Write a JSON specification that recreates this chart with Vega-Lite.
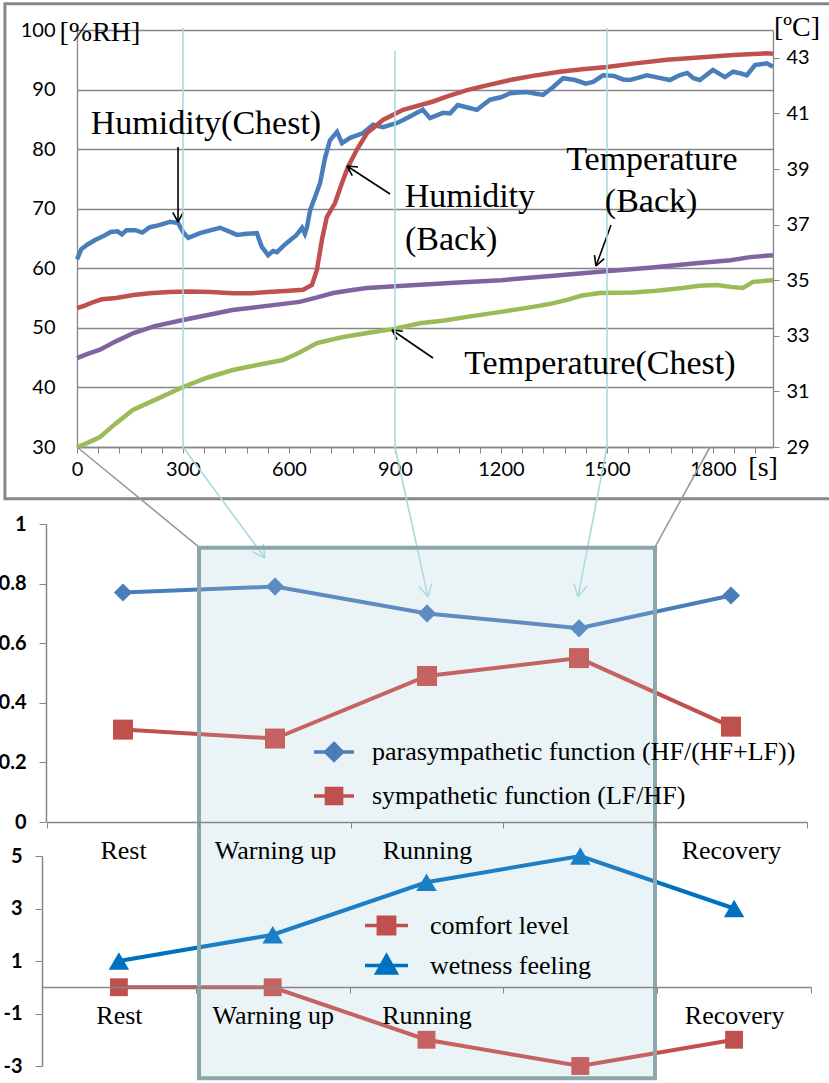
{
  "$schema": "https://vega.github.io/schema/vega-lite/v6.json",
  "width": 829,
  "height": 1083,
  "autosize": "none",
  "padding": 0,
  "background": "white",
  "config": {"view": {"stroke": null}, "font": "Liberation Serif"},
  "datasets": {
    "frame": [{"t0": -204, "t1": 2140, "h0": 21.3, "h1": 104.4}],
    "top": [
      {"sensor": "Humidity(Chest)", "time_s": 0, "value": 61.5},
      {"sensor": "Humidity(Chest)", "time_s": 12, "value": 63.2},
      {"sensor": "Humidity(Chest)", "time_s": 30, "value": 64.0},
      {"sensor": "Humidity(Chest)", "time_s": 50, "value": 64.7},
      {"sensor": "Humidity(Chest)", "time_s": 75, "value": 65.4},
      {"sensor": "Humidity(Chest)", "time_s": 95, "value": 66.1},
      {"sensor": "Humidity(Chest)", "time_s": 115, "value": 66.2},
      {"sensor": "Humidity(Chest)", "time_s": 127, "value": 65.7},
      {"sensor": "Humidity(Chest)", "time_s": 140, "value": 66.4},
      {"sensor": "Humidity(Chest)", "time_s": 165, "value": 66.4},
      {"sensor": "Humidity(Chest)", "time_s": 185, "value": 66.0},
      {"sensor": "Humidity(Chest)", "time_s": 206, "value": 66.9},
      {"sensor": "Humidity(Chest)", "time_s": 230, "value": 67.2},
      {"sensor": "Humidity(Chest)", "time_s": 263, "value": 67.8},
      {"sensor": "Humidity(Chest)", "time_s": 286, "value": 67.6},
      {"sensor": "Humidity(Chest)", "time_s": 300, "value": 66.1},
      {"sensor": "Humidity(Chest)", "time_s": 315, "value": 65.1},
      {"sensor": "Humidity(Chest)", "time_s": 348, "value": 65.9},
      {"sensor": "Humidity(Chest)", "time_s": 380, "value": 66.4},
      {"sensor": "Humidity(Chest)", "time_s": 405, "value": 66.8},
      {"sensor": "Humidity(Chest)", "time_s": 430, "value": 66.2},
      {"sensor": "Humidity(Chest)", "time_s": 453, "value": 65.6},
      {"sensor": "Humidity(Chest)", "time_s": 480, "value": 65.8},
      {"sensor": "Humidity(Chest)", "time_s": 509, "value": 65.9},
      {"sensor": "Humidity(Chest)", "time_s": 523, "value": 63.6},
      {"sensor": "Humidity(Chest)", "time_s": 541, "value": 62.2},
      {"sensor": "Humidity(Chest)", "time_s": 555, "value": 62.9},
      {"sensor": "Humidity(Chest)", "time_s": 566, "value": 62.7},
      {"sensor": "Humidity(Chest)", "time_s": 585, "value": 63.8},
      {"sensor": "Humidity(Chest)", "time_s": 603, "value": 64.7},
      {"sensor": "Humidity(Chest)", "time_s": 620, "value": 65.5},
      {"sensor": "Humidity(Chest)", "time_s": 637, "value": 66.8},
      {"sensor": "Humidity(Chest)", "time_s": 645, "value": 65.8},
      {"sensor": "Humidity(Chest)", "time_s": 651, "value": 66.9},
      {"sensor": "Humidity(Chest)", "time_s": 660, "value": 69.8},
      {"sensor": "Humidity(Chest)", "time_s": 674, "value": 72.0},
      {"sensor": "Humidity(Chest)", "time_s": 688, "value": 74.3},
      {"sensor": "Humidity(Chest)", "time_s": 702, "value": 78.5},
      {"sensor": "Humidity(Chest)", "time_s": 716, "value": 81.5},
      {"sensor": "Humidity(Chest)", "time_s": 736, "value": 82.9},
      {"sensor": "Humidity(Chest)", "time_s": 750, "value": 81.0},
      {"sensor": "Humidity(Chest)", "time_s": 773, "value": 81.9},
      {"sensor": "Humidity(Chest)", "time_s": 810, "value": 82.7},
      {"sensor": "Humidity(Chest)", "time_s": 838, "value": 84.1},
      {"sensor": "Humidity(Chest)", "time_s": 866, "value": 83.7},
      {"sensor": "Humidity(Chest)", "time_s": 906, "value": 84.4},
      {"sensor": "Humidity(Chest)", "time_s": 940, "value": 85.4},
      {"sensor": "Humidity(Chest)", "time_s": 962, "value": 86.1},
      {"sensor": "Humidity(Chest)", "time_s": 979, "value": 86.6},
      {"sensor": "Humidity(Chest)", "time_s": 999, "value": 85.2},
      {"sensor": "Humidity(Chest)", "time_s": 1036, "value": 86.1},
      {"sensor": "Humidity(Chest)", "time_s": 1056, "value": 86.0},
      {"sensor": "Humidity(Chest)", "time_s": 1078, "value": 87.4},
      {"sensor": "Humidity(Chest)", "time_s": 1105, "value": 87.0},
      {"sensor": "Humidity(Chest)", "time_s": 1132, "value": 86.6},
      {"sensor": "Humidity(Chest)", "time_s": 1169, "value": 88.3},
      {"sensor": "Humidity(Chest)", "time_s": 1200, "value": 88.7},
      {"sensor": "Humidity(Chest)", "time_s": 1226, "value": 89.4},
      {"sensor": "Humidity(Chest)", "time_s": 1250, "value": 89.5},
      {"sensor": "Humidity(Chest)", "time_s": 1274, "value": 89.6},
      {"sensor": "Humidity(Chest)", "time_s": 1300, "value": 89.3},
      {"sensor": "Humidity(Chest)", "time_s": 1319, "value": 89.1},
      {"sensor": "Humidity(Chest)", "time_s": 1347, "value": 90.4},
      {"sensor": "Humidity(Chest)", "time_s": 1376, "value": 91.9},
      {"sensor": "Humidity(Chest)", "time_s": 1410, "value": 91.6},
      {"sensor": "Humidity(Chest)", "time_s": 1440, "value": 91.0},
      {"sensor": "Humidity(Chest)", "time_s": 1461, "value": 91.3},
      {"sensor": "Humidity(Chest)", "time_s": 1489, "value": 92.4},
      {"sensor": "Humidity(Chest)", "time_s": 1520, "value": 92.3},
      {"sensor": "Humidity(Chest)", "time_s": 1545, "value": 91.7},
      {"sensor": "Humidity(Chest)", "time_s": 1565, "value": 91.6},
      {"sensor": "Humidity(Chest)", "time_s": 1590, "value": 92.0},
      {"sensor": "Humidity(Chest)", "time_s": 1613, "value": 92.4},
      {"sensor": "Humidity(Chest)", "time_s": 1645, "value": 92.0},
      {"sensor": "Humidity(Chest)", "time_s": 1678, "value": 91.6},
      {"sensor": "Humidity(Chest)", "time_s": 1705, "value": 92.4},
      {"sensor": "Humidity(Chest)", "time_s": 1727, "value": 92.8},
      {"sensor": "Humidity(Chest)", "time_s": 1745, "value": 91.9},
      {"sensor": "Humidity(Chest)", "time_s": 1763, "value": 91.6},
      {"sensor": "Humidity(Chest)", "time_s": 1800, "value": 93.3},
      {"sensor": "Humidity(Chest)", "time_s": 1834, "value": 92.1},
      {"sensor": "Humidity(Chest)", "time_s": 1857, "value": 93.0},
      {"sensor": "Humidity(Chest)", "time_s": 1880, "value": 92.7},
      {"sensor": "Humidity(Chest)", "time_s": 1896, "value": 92.4},
      {"sensor": "Humidity(Chest)", "time_s": 1919, "value": 94.1},
      {"sensor": "Humidity(Chest)", "time_s": 1953, "value": 94.4},
      {"sensor": "Humidity(Chest)", "time_s": 1970, "value": 93.8},
      {"sensor": "Humidity(Back)", "time_s": 0, "value": 53.3},
      {"sensor": "Humidity(Back)", "time_s": 20, "value": 53.7},
      {"sensor": "Humidity(Back)", "time_s": 45, "value": 54.3},
      {"sensor": "Humidity(Back)", "time_s": 70, "value": 54.8},
      {"sensor": "Humidity(Back)", "time_s": 110, "value": 55.0},
      {"sensor": "Humidity(Back)", "time_s": 160, "value": 55.5},
      {"sensor": "Humidity(Back)", "time_s": 206, "value": 55.8},
      {"sensor": "Humidity(Back)", "time_s": 260, "value": 56.0},
      {"sensor": "Humidity(Back)", "time_s": 320, "value": 56.1},
      {"sensor": "Humidity(Back)", "time_s": 380, "value": 56.0},
      {"sensor": "Humidity(Back)", "time_s": 440, "value": 55.8},
      {"sensor": "Humidity(Back)", "time_s": 490, "value": 55.8},
      {"sensor": "Humidity(Back)", "time_s": 540, "value": 56.0},
      {"sensor": "Humidity(Back)", "time_s": 590, "value": 56.2},
      {"sensor": "Humidity(Back)", "time_s": 640, "value": 56.4},
      {"sensor": "Humidity(Back)", "time_s": 665, "value": 57.2},
      {"sensor": "Humidity(Back)", "time_s": 679, "value": 59.7},
      {"sensor": "Humidity(Back)", "time_s": 693, "value": 64.7},
      {"sensor": "Humidity(Back)", "time_s": 707, "value": 68.6},
      {"sensor": "Humidity(Back)", "time_s": 730, "value": 70.9},
      {"sensor": "Humidity(Back)", "time_s": 750, "value": 74.3},
      {"sensor": "Humidity(Back)", "time_s": 767, "value": 77.0},
      {"sensor": "Humidity(Back)", "time_s": 792, "value": 79.9},
      {"sensor": "Humidity(Back)", "time_s": 821, "value": 82.7},
      {"sensor": "Humidity(Back)", "time_s": 866, "value": 84.9},
      {"sensor": "Humidity(Back)", "time_s": 923, "value": 86.6},
      {"sensor": "Humidity(Back)", "time_s": 1008, "value": 88.0},
      {"sensor": "Humidity(Back)", "time_s": 1050, "value": 88.9},
      {"sensor": "Humidity(Back)", "time_s": 1104, "value": 89.9},
      {"sensor": "Humidity(Back)", "time_s": 1160, "value": 90.7},
      {"sensor": "Humidity(Back)", "time_s": 1226, "value": 91.6},
      {"sensor": "Humidity(Back)", "time_s": 1290, "value": 92.3},
      {"sensor": "Humidity(Back)", "time_s": 1367, "value": 93.0},
      {"sensor": "Humidity(Back)", "time_s": 1430, "value": 93.4},
      {"sensor": "Humidity(Back)", "time_s": 1500, "value": 93.8},
      {"sensor": "Humidity(Back)", "time_s": 1580, "value": 94.4},
      {"sensor": "Humidity(Back)", "time_s": 1670, "value": 95.0},
      {"sensor": "Humidity(Back)", "time_s": 1760, "value": 95.4},
      {"sensor": "Humidity(Back)", "time_s": 1857, "value": 95.8},
      {"sensor": "Humidity(Back)", "time_s": 1953, "value": 96.1},
      {"sensor": "Humidity(Back)", "time_s": 1970, "value": 96.0},
      {"sensor": "Temperature(Back)", "time_s": 0, "value": 32.2},
      {"sensor": "Temperature(Back)", "time_s": 30, "value": 32.35},
      {"sensor": "Temperature(Back)", "time_s": 65, "value": 32.5},
      {"sensor": "Temperature(Back)", "time_s": 110, "value": 32.8},
      {"sensor": "Temperature(Back)", "time_s": 160, "value": 33.1},
      {"sensor": "Temperature(Back)", "time_s": 220, "value": 33.35},
      {"sensor": "Temperature(Back)", "time_s": 300, "value": 33.57},
      {"sensor": "Temperature(Back)", "time_s": 370, "value": 33.75},
      {"sensor": "Temperature(Back)", "time_s": 440, "value": 33.93},
      {"sensor": "Temperature(Back)", "time_s": 520, "value": 34.05},
      {"sensor": "Temperature(Back)", "time_s": 630, "value": 34.22},
      {"sensor": "Temperature(Back)", "time_s": 680, "value": 34.38},
      {"sensor": "Temperature(Back)", "time_s": 725, "value": 34.54},
      {"sensor": "Temperature(Back)", "time_s": 780, "value": 34.65},
      {"sensor": "Temperature(Back)", "time_s": 820, "value": 34.72},
      {"sensor": "Temperature(Back)", "time_s": 900, "value": 34.78},
      {"sensor": "Temperature(Back)", "time_s": 960, "value": 34.83},
      {"sensor": "Temperature(Back)", "time_s": 1080, "value": 34.92},
      {"sensor": "Temperature(Back)", "time_s": 1200, "value": 35.0},
      {"sensor": "Temperature(Back)", "time_s": 1340, "value": 35.15},
      {"sensor": "Temperature(Back)", "time_s": 1480, "value": 35.3},
      {"sensor": "Temperature(Back)", "time_s": 1620, "value": 35.45},
      {"sensor": "Temperature(Back)", "time_s": 1760, "value": 35.62},
      {"sensor": "Temperature(Back)", "time_s": 1850, "value": 35.72},
      {"sensor": "Temperature(Back)", "time_s": 1905, "value": 35.83},
      {"sensor": "Temperature(Back)", "time_s": 1970, "value": 35.9},
      {"sensor": "Temperature(Chest)", "time_s": 0, "value": 29.0},
      {"sensor": "Temperature(Chest)", "time_s": 30, "value": 29.15},
      {"sensor": "Temperature(Chest)", "time_s": 65, "value": 29.36},
      {"sensor": "Temperature(Chest)", "time_s": 110, "value": 29.85},
      {"sensor": "Temperature(Chest)", "time_s": 158, "value": 30.33},
      {"sensor": "Temperature(Chest)", "time_s": 230, "value": 30.75},
      {"sensor": "Temperature(Chest)", "time_s": 300, "value": 31.16},
      {"sensor": "Temperature(Chest)", "time_s": 370, "value": 31.5},
      {"sensor": "Temperature(Chest)", "time_s": 441, "value": 31.77},
      {"sensor": "Temperature(Chest)", "time_s": 510, "value": 31.95},
      {"sensor": "Temperature(Chest)", "time_s": 583, "value": 32.13},
      {"sensor": "Temperature(Chest)", "time_s": 630, "value": 32.4},
      {"sensor": "Temperature(Chest)", "time_s": 679, "value": 32.74},
      {"sensor": "Temperature(Chest)", "time_s": 750, "value": 32.95},
      {"sensor": "Temperature(Chest)", "time_s": 821, "value": 33.1},
      {"sensor": "Temperature(Chest)", "time_s": 894, "value": 33.24},
      {"sensor": "Temperature(Chest)", "time_s": 971, "value": 33.45},
      {"sensor": "Temperature(Chest)", "time_s": 1040, "value": 33.55},
      {"sensor": "Temperature(Chest)", "time_s": 1104, "value": 33.68},
      {"sensor": "Temperature(Chest)", "time_s": 1200, "value": 33.86},
      {"sensor": "Temperature(Chest)", "time_s": 1291, "value": 34.04},
      {"sensor": "Temperature(Chest)", "time_s": 1340, "value": 34.15},
      {"sensor": "Temperature(Chest)", "time_s": 1387, "value": 34.29},
      {"sensor": "Temperature(Chest)", "time_s": 1430, "value": 34.45},
      {"sensor": "Temperature(Chest)", "time_s": 1480, "value": 34.54},
      {"sensor": "Temperature(Chest)", "time_s": 1574, "value": 34.56},
      {"sensor": "Temperature(Chest)", "time_s": 1640, "value": 34.62},
      {"sensor": "Temperature(Chest)", "time_s": 1715, "value": 34.72},
      {"sensor": "Temperature(Chest)", "time_s": 1760, "value": 34.8},
      {"sensor": "Temperature(Chest)", "time_s": 1811, "value": 34.83},
      {"sensor": "Temperature(Chest)", "time_s": 1850, "value": 34.76},
      {"sensor": "Temperature(Chest)", "time_s": 1885, "value": 34.72},
      {"sensor": "Temperature(Chest)", "time_s": 1913, "value": 34.94},
      {"sensor": "Temperature(Chest)", "time_s": 1970, "value": 35.0}
    ],
    "strokes": [
      {"kind": "callout", "t_from": 285.9, "h_from": 80.36, "t_to": 285.9, "h_to": 67.77},
      {"kind": "callout", "t_from": 285.9, "h_from": 67.77, "t_to": 300.6, "h_to": 69.4},
      {"kind": "callout", "t_from": 285.9, "h_from": 67.77, "t_to": 271.2, "h_to": 69.4},
      {"kind": "callout", "t_from": 886.0, "h_from": 72.47, "t_to": 764.2, "h_to": 77.17},
      {"kind": "callout", "t_from": 764.2, "h_from": 77.17, "t_to": 779.2, "h_to": 75.56},
      {"kind": "callout", "t_from": 764.2, "h_from": 77.17, "t_to": 795.3, "h_to": 77.0},
      {"kind": "callout", "t_from": 1511.5, "h_from": 67.27, "t_to": 1469.0, "h_to": 60.38},
      {"kind": "callout", "t_from": 1469.0, "h_from": 60.38, "t_to": 1492.2, "h_to": 61.63},
      {"kind": "callout", "t_from": 1469.0, "h_from": 60.38, "t_to": 1464.7, "h_to": 62.21},
      {"kind": "callout", "t_from": 1007.6, "h_from": 44.94, "t_to": 891.6, "h_to": 49.64},
      {"kind": "callout", "t_from": 891.6, "h_from": 49.64, "t_to": 906.0, "h_to": 48.01},
      {"kind": "callout", "t_from": 891.6, "h_from": 49.64, "t_to": 922.4, "h_to": 49.44},
      {"kind": "stage", "t_from": 300, "h_from": 100.34, "t_to": 300, "h_to": 30},
      {"kind": "stage", "t_from": 300, "h_from": 30, "t_to": 532.1, "h_to": 11.37},
      {"kind": "stage", "t_from": 532.1, "h_from": 11.37, "t_to": 527.3, "h_to": 13.7},
      {"kind": "stage", "t_from": 532.1, "h_from": 11.37, "t_to": 496.7, "h_to": 12.42},
      {"kind": "stage", "t_from": 900, "h_from": 96.5, "t_to": 900, "h_to": 30},
      {"kind": "stage", "t_from": 900, "h_from": 30, "t_to": 993.5, "h_to": 4.82},
      {"kind": "stage", "t_from": 993.5, "h_from": 4.82, "t_to": 1004.2, "h_to": 7.09},
      {"kind": "stage", "t_from": 993.5, "h_from": 4.82, "t_to": 967.7, "h_to": 6.62},
      {"kind": "stage", "t_from": 1500, "h_from": 100.34, "t_to": 1500, "h_to": 30},
      {"kind": "stage", "t_from": 1500, "h_from": 30, "t_to": 1418.1, "h_to": 4.82},
      {"kind": "stage", "t_from": 1418.1, "h_from": 4.82, "t_to": 1443.0, "h_to": 6.65},
      {"kind": "stage", "t_from": 1418.1, "h_from": 4.82, "t_to": 1406.4, "h_to": 7.07},
      {"kind": "zoom", "t_from": 0, "h_from": 30, "t_to": 345.3, "h_to": 13.21},
      {"kind": "zoom", "t_from": 1791.7, "h_from": 30, "t_to": 1636, "h_to": 13.21}
    ],
    "notes": [
      {"kind": "unit", "text": "[%RH]", "time_s": 65, "level": 99.5},
      {"kind": "unit", "text": "[ºC]", "time_s": 2038, "level": 100.34},
      {"kind": "unit", "text": "[s]", "time_s": 1942, "level": 26.47},
      {"kind": "callout", "text": "Humidity(Chest)", "time_s": 365, "level": 84.22},
      {"kind": "callout", "text": "Humidity", "time_s": 1112, "level": 71.97},
      {"kind": "callout", "text": "(Back)", "time_s": 1059, "level": 64.75},
      {"kind": "callout", "text": "Temperature", "time_s": 1627, "level": 78.18},
      {"kind": "callout", "text": "(Back)", "time_s": 1625, "level": 71.13},
      {"kind": "callout", "text": "Temperature(Chest)", "time_s": 1480, "level": 43.93}
    ],
    "hrv": [
      {"stage": "Rest", "series": "parasympathetic function (HF/(HF+LF))", "value": 0.77},
      {"stage": "Warning up", "series": "parasympathetic function (HF/(HF+LF))", "value": 0.79},
      {"stage": "Running", "series": "parasympathetic function (HF/(HF+LF))", "value": 0.70},
      {"stage": "Running 2", "series": "parasympathetic function (HF/(HF+LF))", "value": 0.65},
      {"stage": "Recovery", "series": "parasympathetic function (HF/(HF+LF))", "value": 0.76},
      {"stage": "Rest", "series": "sympathetic function (LF/HF)", "value": 0.31},
      {"stage": "Warning up", "series": "sympathetic function (LF/HF)", "value": 0.28},
      {"stage": "Running", "series": "sympathetic function (LF/HF)", "value": 0.49},
      {"stage": "Running 2", "series": "sympathetic function (LF/HF)", "value": 0.55},
      {"stage": "Recovery", "series": "sympathetic function (LF/HF)", "value": 0.32}
    ],
    "subjective": [
      {"stage": "Rest", "series": "comfort level", "score": 0},
      {"stage": "Warning up", "series": "comfort level", "score": 0},
      {"stage": "Running", "series": "comfort level", "score": -2},
      {"stage": "Running 2", "series": "comfort level", "score": -3},
      {"stage": "Recovery", "series": "comfort level", "score": -2},
      {"stage": "Rest", "series": "wetness feeling", "score": 1},
      {"stage": "Warning up", "series": "wetness feeling", "score": 2},
      {"stage": "Running", "series": "wetness feeling", "score": 4},
      {"stage": "Running 2", "series": "wetness feeling", "score": 5},
      {"stage": "Recovery", "series": "wetness feeling", "score": 3}
    ],
    "focus": [{"stage_from": 1.5, "stage_to": 4.5, "upper": 0.92, "lower": -0.86}]
  },
  "layer": [
    {
      "data": {"name": "frame"},
      "mark": {"type": "rect", "fillOpacity": 0, "stroke": "#878787", "strokeWidth": 3},
      "encoding": {
        "x": {"field": "t0", "type": "quantitative", "scale": {"domain": [0, 1970], "range": [77, 773], "nice": false, "zero": false}, "axis": null},
        "x2": {"field": "t1"},
        "y": {"field": "h0", "type": "quantitative", "scale": {"domain": [30, 100], "range": [447, 30], "nice": false, "zero": false}, "axis": null},
        "y2": {"field": "h1"}
      }
    },
    {
      "data": {"name": "focus"},
      "mark": {"type": "rect", "fill": "#d3e8ee", "fillOpacity": 0.45, "strokeWidth": 0},
      "encoding": {
        "x": {"field": "stage_from", "type": "quantitative", "scale": {"domain": [0.5, 5.5], "range": [47, 807], "nice": false, "zero": false}, "axis": null},
        "x2": {"field": "stage_to"},
        "y": {"field": "upper", "type": "quantitative", "scale": {"domain": [0, 1], "range": [822, 524], "nice": false, "zero": false}, "axis": null},
        "y2": {"field": "lower"}
      }
    },
    {
      "data": {"name": "top"},
      "transform": [{"filter": "datum.sensor === 'Humidity(Chest)' || datum.sensor === 'Humidity(Back)'"}],
      "mark": {"type": "line", "strokeWidth": 4.5},
      "encoding": {
        "x": {"field": "time_s", "type": "quantitative",
          "scale": {"domain": [0, 1970], "range": [77, 773], "nice": false, "zero": false},
          "axis": {"orient": "bottom", "offset": -636, "title": null, "grid": false,
            "values": [0,60,120,180,240,300,360,420,480,540,600,660,720,780,840,900,960,1020,1080,1140,1200,1260,1320,1380,1440,1500,1560,1620,1680,1740,1800,1860,1920],
            "labelExpr": "datum.value % 300 === 0 ? format(datum.value, 'd') : ''",
            "tickSize": 6, "tickColor": "#868686", "domainColor": "#868686", "domainWidth": 1.3,
            "labelFont": "Lato", "labelFontSize": 20, "labelColor": "black", "labelPadding": 6,
            "labelFlush": false, "labelOverlap": false}},
        "y": {"field": "value", "type": "quantitative",
          "scale": {"domain": [30, 100], "range": [447, 30], "nice": false, "zero": false},
          "axis": {"orient": "left", "offset": -77, "title": null, "grid": true, "gridColor": "#868686", "gridWidth": 1.3,
            "values": [30,40,50,60,70,80,90,100], "ticks": false, "domainColor": "#868686", "domainWidth": 1.3,
            "labelFont": "Lato", "labelFontSize": 20, "labelColor": "black", "labelPadding": 22,
            "labelFlush": false, "labelOverlap": false}},
        "color": {"field": "sensor", "type": "nominal",
          "scale": {"domain": ["Humidity(Chest)", "Humidity(Back)"], "range": ["#4a7ebb", "#c0504d"]}, "legend": null}
      }
    },
    {
      "data": {"name": "top"},
      "transform": [{"filter": "datum.sensor === 'Temperature(Back)' || datum.sensor === 'Temperature(Chest)'"}],
      "mark": {"type": "line", "strokeWidth": 4.5},
      "encoding": {
        "x": {"field": "time_s", "type": "quantitative", "scale": {"domain": [0, 1970], "range": [77, 773], "nice": false, "zero": false}, "axis": null},
        "y": {"field": "value", "type": "quantitative",
          "scale": {"domain": [29, 44], "range": [447, 30], "nice": false, "zero": false},
          "axis": {"orient": "right", "offset": -56, "title": null, "grid": false,
            "values": [29,31,33,35,37,39,41,43], "format": "d", "tickSize": 6, "tickColor": "#868686",
            "domainColor": "#868686", "domainWidth": 1.3,
            "labelFont": "Lato", "labelFontSize": 20, "labelColor": "black", "labelPadding": 7,
            "labelFlush": false, "labelOverlap": false}},
        "color": {"field": "sensor", "type": "nominal",
          "scale": {"domain": ["Temperature(Back)", "Temperature(Chest)"], "range": ["#8064a2", "#9bbb59"]}, "legend": null}
      }
    },
    {
      "data": {"name": "strokes"},
      "mark": {"type": "rule", "strokeWidth": 1.6},
      "encoding": {
        "x": {"field": "t_from", "type": "quantitative", "scale": {"domain": [0, 1970], "range": [77, 773], "nice": false, "zero": false}, "axis": null},
        "x2": {"field": "t_to"},
        "y": {"field": "h_from", "type": "quantitative", "scale": {"domain": [30, 100], "range": [447, 30], "nice": false, "zero": false}, "axis": null},
        "y2": {"field": "h_to"},
        "color": {"field": "kind", "type": "nominal", "scale": {"domain": ["callout", "stage", "zoom"], "range": ["#000000", "#a9d9dd", "#9a9a9a"]}, "legend": null}
      }
    },
    {
      "data": {"name": "notes"},
      "transform": [{"filter": "datum.kind === 'unit'"}],
      "mark": {"type": "text", "font": "Liberation Serif", "fontSize": 28, "align": "center", "baseline": "middle", "color": "black"},
      "encoding": {
        "x": {"field": "time_s", "type": "quantitative", "scale": {"domain": [0, 1970], "range": [77, 773], "nice": false, "zero": false}, "axis": null},
        "y": {"field": "level", "type": "quantitative", "scale": {"domain": [30, 100], "range": [447, 30], "nice": false, "zero": false}, "axis": null},
        "text": {"field": "text"}
      }
    },
    {
      "data": {"name": "notes"},
      "transform": [{"filter": "datum.kind === 'callout'"}],
      "mark": {"type": "text", "font": "Liberation Serif", "fontSize": 34, "align": "center", "baseline": "middle", "color": "black"},
      "encoding": {
        "x": {"field": "time_s", "type": "quantitative", "scale": {"domain": [0, 1970], "range": [77, 773], "nice": false, "zero": false}, "axis": null},
        "y": {"field": "level", "type": "quantitative", "scale": {"domain": [30, 100], "range": [447, 30], "nice": false, "zero": false}, "axis": null},
        "text": {"field": "text"}
      }
    },
    {
      "data": {"name": "hrv"},
      "mark": {"type": "line", "strokeWidth": 4},
      "encoding": {
        "x": {"field": "stage", "type": "ordinal", "bandPosition": 0.5,
          "scale": {"type": "band", "domain": ["Rest", "Warning up", "Running", "Running 2", "Recovery"], "range": [47, 807], "paddingInner": 0, "paddingOuter": 0},
          "axis": {"orient": "bottom", "offset": -261, "title": null, "tickBand": "extent", "tickSize": 6, "zindex": 1,
            "tickColor": "#868686", "domainColor": "#868686", "domainWidth": 1.5, "labelAngle": 0,
            "labelExpr": "datum.value === 'Running 2' ? '' : datum.label",
            "labelFont": "Liberation Serif", "labelFontSize": 26, "labelColor": "black", "labelPadding": 9}},
        "y": {"field": "value", "type": "quantitative",
          "scale": {"domain": [0, 1], "range": [822, 524], "nice": false, "zero": false},
          "axis": {"orient": "left", "offset": -46, "title": null, "grid": false,
            "values": [0, 0.2, 0.4, 0.6, 0.8, 1], "format": ".1~f", "tickSize": 7, "tickColor": "#868686",
            "domainColor": "#868686", "domainWidth": 1.5,
            "labelFont": "Lato", "labelFontSize": 20, "labelFontWeight": "bold", "labelColor": "black", "labelPadding": 13,
            "labelFlush": false, "labelOverlap": false}},
        "color": {"field": "series", "type": "nominal",
          "scale": {"domain": ["parasympathetic function (HF/(HF+LF))", "sympathetic function (LF/HF)"], "range": ["#4a7ebb", "#c0504d"]}, "legend": null}
      }
    },
    {
      "data": {"name": "hrv"},
      "transform": [{"filter": "datum.series === 'parasympathetic function (HF/(HF+LF))'"}],
      "mark": {"type": "point", "filled": true, "shape": "diamond", "size": 330, "opacity": 1},
      "encoding": {
        "x": {"field": "stage", "type": "ordinal", "bandPosition": 0.5,
          "scale": {"type": "band", "domain": ["Rest", "Warning up", "Running", "Running 2", "Recovery"], "range": [47, 807], "paddingInner": 0, "paddingOuter": 0}, "axis": null},
        "y": {"field": "value", "type": "quantitative", "scale": {"domain": [0, 1], "range": [822, 524], "nice": false, "zero": false}, "axis": null},
        "color": {"field": "series", "type": "nominal", "scale": {"range": ["#4a7ebb"]},
          "legend": {"title": null, "orient": "none", "legendX": 312, "legendY": 730, "padding": 0,
            "symbolType": "M-1,0L1,0M0,-0.42L0.42,0L0,0.42L-0.42,0Z", "symbolSize": 1600,
            "symbolStrokeColor": "#4a7ebb", "symbolFillColor": "#4a7ebb", "symbolStrokeWidth": 3.5, "symbolOpacity": 1,
            "labelFont": "Liberation Serif", "labelFontSize": 26, "labelColor": "black", "labelOffset": 16, "labelLimit": 700,
            "encode": {"symbols": {"update": {"shape": {"value": "M-1,0L1,0M0,-0.42L0.42,0L0,0.42L-0.42,0Z"}, "fill": {"value": "#4a7ebb"}, "stroke": {"value": "#4a7ebb"}}}}}}
      }
    },
    {
      "data": {"name": "hrv"},
      "transform": [{"filter": "datum.series === 'sympathetic function (LF/HF)'"}],
      "mark": {"type": "point", "filled": true, "shape": "square", "size": 400, "opacity": 1},
      "encoding": {
        "x": {"field": "stage", "type": "ordinal", "bandPosition": 0.5,
          "scale": {"type": "band", "domain": ["Rest", "Warning up", "Running", "Running 2", "Recovery"], "range": [47, 807], "paddingInner": 0, "paddingOuter": 0}, "axis": null},
        "y": {"field": "value", "type": "quantitative", "scale": {"domain": [0, 1], "range": [822, 524], "nice": false, "zero": false}, "axis": null},
        "color": {"field": "series", "type": "nominal", "scale": {"range": ["#c0504d"]},
          "legend": {"title": null, "orient": "none", "legendX": 312, "legendY": 774, "padding": 0,
            "symbolType": "M-1,0L1,0M-0.38,-0.38L0.38,-0.38L0.38,0.38L-0.38,0.38Z", "symbolSize": 1600,
            "symbolStrokeColor": "#c0504d", "symbolFillColor": "#c0504d", "symbolStrokeWidth": 3.5, "symbolOpacity": 1,
            "labelFont": "Liberation Serif", "labelFontSize": 26, "labelColor": "black", "labelOffset": 16, "labelLimit": 700,
            "encode": {"symbols": {"update": {"shape": {"value": "M-1,0L1,0M-0.38,-0.38L0.38,-0.38L0.38,0.38L-0.38,0.38Z"}, "fill": {"value": "#c0504d"}, "stroke": {"value": "#c0504d"}}}}}}
      }
    },
    {
      "data": {"name": "subjective"},
      "mark": {"type": "line", "strokeWidth": 4},
      "encoding": {
        "x": {"field": "stage", "type": "ordinal", "bandPosition": 0.5,
          "scale": {"type": "band", "domain": ["Rest", "Warning up", "Running", "Running 2", "Recovery"], "range": [42, 811], "paddingInner": 0, "paddingOuter": 0},
          "axis": {"orient": "bottom", "offset": -96, "title": null, "tickBand": "extent", "tickSize": 6, "zindex": 1,
            "tickColor": "#868686", "domainColor": "#868686", "domainWidth": 1.5, "labelAngle": 0,
            "labelExpr": "datum.value === 'Running 2' ? '' : datum.label",
            "labelFont": "Liberation Serif", "labelFontSize": 26, "labelColor": "black", "labelPadding": 9}},
        "y": {"field": "score", "type": "quantitative",
          "scale": {"domain": [-3, 5], "range": [1066, 856], "nice": false, "zero": false},
          "axis": {"orient": "left", "offset": -42, "title": null, "grid": false,
            "values": [-3, -1, 1, 3, 5], "labelExpr": "'' + datum.value", "tickSize": 7, "tickColor": "#868686",
            "domainColor": "#868686", "domainWidth": 1.5,
            "labelFont": "Lato", "labelFontSize": 20, "labelFontWeight": "bold", "labelColor": "black", "labelPadding": 13,
            "labelFlush": false, "labelOverlap": false}},
        "color": {"field": "series", "type": "nominal",
          "scale": {"domain": ["comfort level", "wetness feeling"], "range": ["#c0504d", "#0070c0"]}, "legend": null}
      }
    },
    {
      "data": {"name": "subjective"},
      "transform": [{"filter": "datum.series === 'comfort level'"}],
      "mark": {"type": "point", "filled": true, "shape": "square", "size": 320, "opacity": 1},
      "encoding": {
        "x": {"field": "stage", "type": "ordinal", "bandPosition": 0.5,
          "scale": {"type": "band", "domain": ["Rest", "Warning up", "Running", "Running 2", "Recovery"], "range": [42, 811], "paddingInner": 0, "paddingOuter": 0}, "axis": null},
        "y": {"field": "score", "type": "quantitative", "scale": {"domain": [-3, 5], "range": [1066, 856], "nice": false, "zero": false}, "axis": null},
        "color": {"field": "series", "type": "nominal", "scale": {"range": ["#c0504d"]},
          "legend": {"title": null, "orient": "none", "legendX": 363, "legendY": 902, "padding": 0,
            "symbolType": "M-1,0L1,0M-0.38,-0.38L0.38,-0.38L0.38,0.38L-0.38,0.38Z", "symbolSize": 1849,
            "symbolStrokeColor": "#c0504d", "symbolFillColor": "#c0504d", "symbolStrokeWidth": 3.5, "symbolOpacity": 1,
            "labelFont": "Liberation Serif", "labelFontSize": 26, "labelColor": "black", "labelOffset": 20, "labelLimit": 700,
            "encode": {"symbols": {"update": {"shape": {"value": "M-1,0L1,0M-0.38,-0.38L0.38,-0.38L0.38,0.38L-0.38,0.38Z"}, "fill": {"value": "#c0504d"}, "stroke": {"value": "#c0504d"}}}}}}
      }
    },
    {
      "data": {"name": "subjective"},
      "transform": [{"filter": "datum.series === 'wetness feeling'"}],
      "mark": {"type": "point", "filled": true, "shape": "triangle-up", "size": 420, "opacity": 1},
      "encoding": {
        "x": {"field": "stage", "type": "ordinal", "bandPosition": 0.5,
          "scale": {"type": "band", "domain": ["Rest", "Warning up", "Running", "Running 2", "Recovery"], "range": [42, 811], "paddingInner": 0, "paddingOuter": 0}, "axis": null},
        "y": {"field": "score", "type": "quantitative", "scale": {"domain": [-3, 5], "range": [1066, 856], "nice": false, "zero": false}, "axis": null},
        "color": {"field": "series", "type": "nominal", "scale": {"range": ["#0070c0"]},
          "legend": {"title": null, "orient": "none", "legendX": 363, "legendY": 942, "padding": 0,
            "symbolType": "M-1,0L1,0M0,-0.45L0.45,0.35L-0.45,0.35Z", "symbolSize": 1849,
            "symbolStrokeColor": "#0070c0", "symbolFillColor": "#0070c0", "symbolStrokeWidth": 3.5, "symbolOpacity": 1,
            "labelFont": "Liberation Serif", "labelFontSize": 26, "labelColor": "black", "labelOffset": 20, "labelLimit": 700,
            "encode": {"symbols": {"update": {"shape": {"value": "M-1,0L1,0M0,-0.45L0.45,0.35L-0.45,0.35Z"}, "fill": {"value": "#0070c0"}, "stroke": {"value": "#0070c0"}}}}}}
      }
    },
    {
      "data": {"name": "focus"},
      "mark": {"type": "rect", "fill": "#e4f1f5", "fillOpacity": 0.12, "stroke": "#8ba7ab", "strokeWidth": 4},
      "encoding": {
        "x": {"field": "stage_from", "type": "quantitative", "scale": {"domain": [0.5, 5.5], "range": [47, 807], "nice": false, "zero": false}, "axis": null},
        "x2": {"field": "stage_to"},
        "y": {"field": "upper", "type": "quantitative", "scale": {"domain": [0, 1], "range": [822, 524], "nice": false, "zero": false}, "axis": null},
        "y2": {"field": "lower"}
      }
    }
  ],
  "resolve": {
    "scale": {"x": "independent", "y": "independent", "color": "independent", "shape": "independent"},
    "axis": {"x": "independent", "y": "independent"},
    "legend": {"color": "independent"}
  }
}
